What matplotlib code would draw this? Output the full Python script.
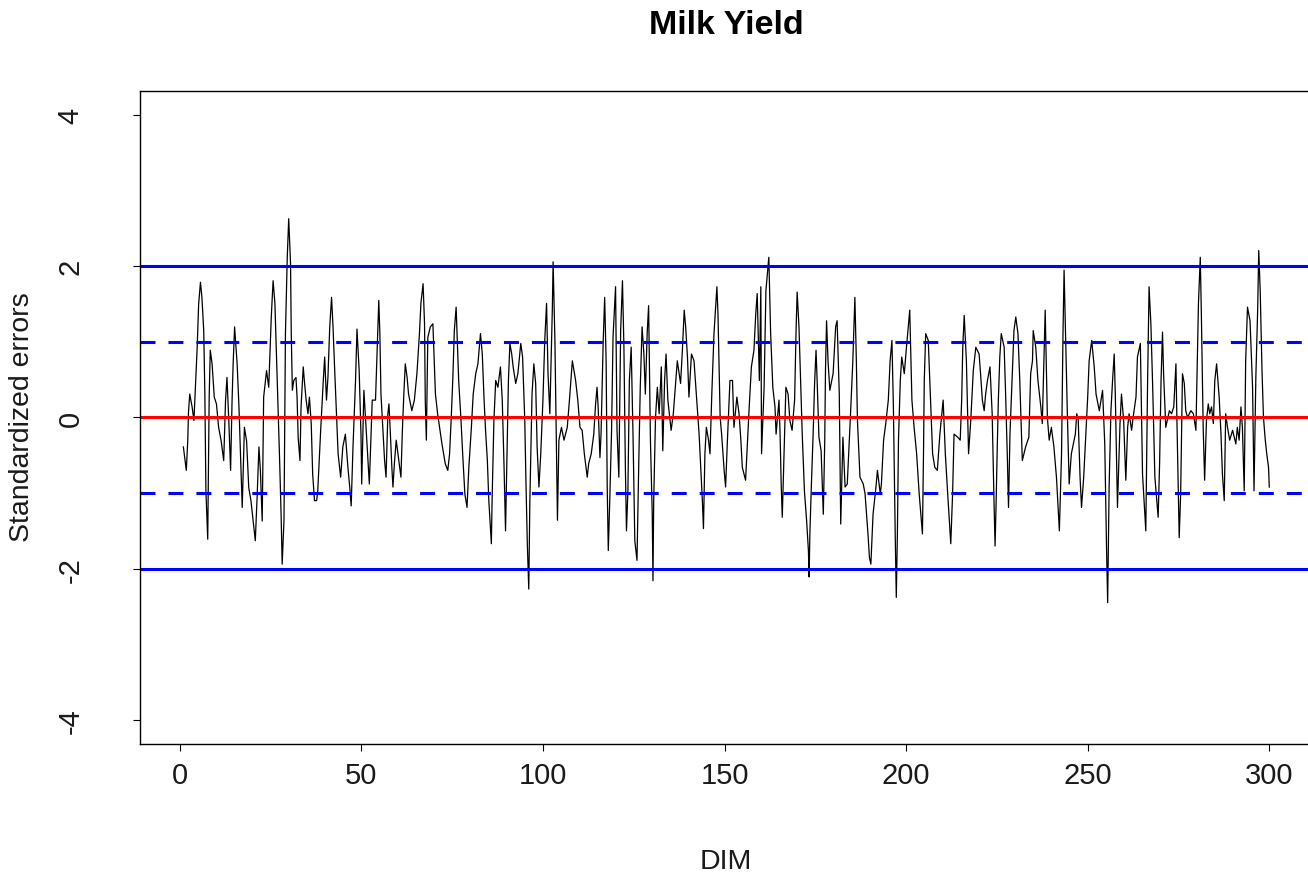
import matplotlib.pyplot as plt

plt.rcParams['font.family'] = ['Liberation Sans', 'DejaVu Sans']
plt.rcParams['axes.unicode_minus'] = False

# standardized errors by days in milk
dim_a = [1.0, 1.8, 2.2, 2.4, 2.75, 3.4, 3.9, 4.4, 4.8, 5.2, 5.7, 6.1, 6.6, 6.9, 7.2, 7.7, 8.1, 8.4, 8.9, 9.5,
         10.1, 10.7, 11.4, 12.1, 12.6, 13.0, 13.5, 14.0, 14.4, 14.7, 15.1, 15.8, 16.3, 16.9, 17.2, 17.8, 18.4,
         19.0, 19.6, 20.2, 20.8, 21.3, 21.8, 22.2, 22.7, 23.1, 23.9, 24.5, 25.2, 25.7]
err_a = [-0.39, -0.70, -0.31, 0.07, 0.31, 0.14, -0.04, 0.49, 0.93, 1.5, 1.79, 1.59, 1.15, 0.34, -0.97, -1.61,
         0.27, 0.89, 0.71, 0.27, 0.18, -0.13, -0.31, -0.57, 0.22, 0.53, -0.04, -0.70, 0.22, 0.71, 1.2, 0.71,
         0.14, -0.75, -1.19, -0.13, -0.31, -0.93, -1.10, -1.37, -1.63, -1.05, -0.39, -0.70, -1.37, 0.27, 0.62,
         0.40, 1.33, 1.81]

dim_b = [26.2, 26.6, 27.0, 27.5, 27.9, 28.2, 28.7, 29.1, 29.6, 30.0, 30.5, 30.7, 31.0, 31.4, 32.0, 32.3, 32.6,
         33.1, 33.4, 34.0, 34.3, 34.8, 35.3, 35.7, 36.2, 36.6, 37.1, 37.7, 38.0, 38.8, 39.5, 39.9, 40.4, 40.8,
         41.3, 41.8, 42.2, 42.7, 43.2, 43.6, 44.3, 44.9, 45.6, 46.3, 46.8, 47.2, 47.7, 48.4, 48.8, 49.4, 49.9,
         50.1, 50.7, 51.4, 52.2, 53.0]
err_b = [1.51, 0.89, 0.23, -0.57, -1.28, -1.94, -1.36, 1.11, 2.12, 2.63, 2.04, 1.11, 0.36, 0.49, 0.53, 0.27,
         -0.26, -0.57, 0.14, 0.67, 0.49, 0.23, 0.05, 0.27, -0.08, -0.75, -1.10, -1.10, -0.97, -0.17, 0.47, 0.80,
         0.23, 0.53, 1.20, 1.59, 1.20, 0.58, 0.0, -0.48, -0.79, -0.39, -0.22, -0.66, -0.92, -1.17, -0.39, 0.49,
         1.17, 0.62, -0.22, -0.88, 0.36, -0.22, -0.88, 0.23]

dim_c = [53.9, 54.5, 54.8, 55.1, 55.4, 56.0, 56.4, 56.8, 57.3, 57.6, 58.0, 58.4, 58.7, 59.1, 59.6, 60.9, 61.3,
         61.7, 62.1, 62.6, 63.0, 63.9, 64.6, 65.3, 66.0, 66.4, 67.0, 67.4, 67.6, 67.9, 68.3, 69.0, 69.7, 70.4,
         71.0, 72.2, 73.1, 73.8, 74.3, 74.8, 75.2, 75.6, 76.1, 76.8, 77.4, 77.9, 78.5, 79.1, 79.6, 80.3, 80.8]
err_c = [0.23, 1.11, 1.55, 1.11, 0.31, -0.22, -0.57, -0.79, 0.05, 0.18, -0.22, -0.66, -0.92, -0.61, -0.30,
         -0.79, -0.17, 0.31, 0.71, 0.53, 0.31, 0.09, 0.23, 0.58, 1.11, 1.51, 1.77, 1.24, 0.23, -0.30, 1.06, 1.20,
         1.24, 0.31, 0.05, -0.35, -0.61, -0.70, -0.48, 0.05, 0.53, 1.15, 1.46, 0.49, 0.0, -0.48, -1.01, -1.19,
         -0.66, -0.13, 0.31]

dim_d = [81.5, 82.1, 82.8, 83.3, 83.8, 84.2, 84.7, 85.1, 85.8, 86.0, 86.5, 87.0, 87.6, 88.3, 88.8, 89.3, 89.7,
         90.2, 90.5, 90.9, 91.4, 91.8, 92.5, 93.1, 93.9, 94.4, 95.0, 95.3, 95.7, 96.1, 96.4, 97.0, 97.5, 98.0,
         98.4, 98.9, 99.4, 100.0, 100.5, 101.0, 101.4, 101.9, 102.6, 102.8, 103.3, 103.7, 104.0, 104.4, 105.1,
         105.8, 106.7, 107.3, 108.1]
err_d = [0.58, 0.71, 1.11, 0.84, 0.23, -0.17, -0.57, -1.10, -1.67, -1.10, -0.04, 0.49, 0.40, 0.67, 0.23, -0.66,
         -1.50, -0.22, 0.49, 0.98, 0.84, 0.67, 0.45, 0.58, 0.98, 0.80, -0.04, -0.79, -1.67, -2.27, -1.10, 0.31,
         0.71, 0.45, -0.39, -0.92, -0.48, 0.23, 1.02, 1.51, 0.58, 0.05, 1.46, 2.06, 1.02, -0.30, -1.36, -0.30,
         -0.13, -0.30, -0.13, 0.23, 0.75]

dim_e = [109.0, 109.6, 110.2, 110.8, 111.4, 112.2, 112.6, 113.3, 114.0, 114.5, 114.9, 115.2, 115.7, 116.0,
         116.6, 117.0, 117.4, 117.7, 118.0, 118.4, 118.9, 119.3, 120.0, 120.4, 120.9, 121.4, 121.9, 122.3,
         122.7, 123.0, 123.4, 123.8, 124.3, 124.8, 125.3, 125.9, 126.4, 126.8, 127.3, 127.8, 128.2, 128.7,
         129.1, 129.6, 130.1, 130.3, 130.5, 131.0, 131.5, 132.0, 132.6, 133.0, 133.5, 133.9, 134.4, 134.8,
         135.3, 135.9]
err_e = [0.49, 0.23, -0.13, -0.17, -0.48, -0.79, -0.61, -0.48, -0.22, 0.18, 0.40, 0.14, -0.53, -0.22, 1.02,
         1.59, 0.75, -0.92, -1.76, -1.10, -0.17, 1.06, 1.73, -0.17, -0.79, 1.15, 1.81, 0.93, -0.66, -1.50, -0.97,
         0.49, 0.93, -0.22, -1.63, -1.89, -0.57, 0.40, 1.20, 0.84, 0.31, 1.11, 1.48, -0.30, -1.28, -2.16, -1.10,
         0.0, 0.40, 0.05, 0.67, -0.44, 0.49, 0.84, 0.23, 0.05, -0.17, 0.05]

dim_f = [136.6, 137.0, 137.5, 137.9, 138.4, 138.9, 139.3, 139.8, 140.2, 140.9, 141.6, 142.3, 143.0, 143.4,
         143.9, 144.2, 144.6, 145.0, 145.6, 146.0, 146.5, 147.1, 147.9, 148.2, 148.8, 149.2, 149.9, 150.3,
         150.8, 151.5, 152.2, 152.6, 153.4, 154.0, 154.5, 154.9, 155.8, 156.8, 157.4, 158.1, 158.6, 159.0,
         159.6, 160.0, 160.2, 160.9, 161.4, 162.2, 162.7, 163.3]
err_f = [0.49, 0.75, 0.58, 0.45, 0.89, 1.42, 1.20, 0.80, 0.27, 0.84, 0.75, 0.27, -0.22, -0.61, -1.10, -1.47,
         -0.48, -0.13, -0.30, -0.48, 0.31, 1.11, 1.73, 1.37, 0.0, -0.22, -0.70, -0.92, -0.30, 0.49, 0.49, -0.13,
         0.27, 0.05, -0.30, -0.66, -0.83, 0.14, 0.67, 0.89, 1.37, 1.64, 0.49, 1.73, -0.48, 0.40, 1.68, 2.12,
         1.11, 0.40]

dim_g = [163.9, 164.2, 165.0, 165.3, 165.6, 165.9, 166.4, 166.9, 167.5, 168.0, 168.6, 169.3, 169.7, 170.0,
         170.5, 171.1, 171.4, 172.0, 172.6, 173.1, 173.3, 173.5, 173.9, 174.4, 174.8, 175.2, 175.5, 176.0,
         176.6, 177.2, 177.6, 177.8, 178.1, 178.5, 179.0, 179.9, 180.6, 181.0, 181.6, 182.0, 182.6, 183.2,
         183.8, 184.7, 185.3, 185.9, 186.3, 186.6, 187.3, 188.2, 188.7, 189.5, 189.9, 190.3, 190.9]
err_g = [0.14, -0.22, 0.23, -0.22, -0.88, -1.32, -0.44, 0.40, 0.31, -0.04, -0.17, 0.23, 1.15, 1.66, 1.20, 0.27,
         -0.22, -0.97, -1.36, -1.76, -2.11, -1.54, -0.92, -0.22, 0.45, 0.89, 0.49, -0.26, -0.44, -1.28, -0.30,
         0.62, 1.28, 0.75, 0.36, 0.58, 1.20, 1.28, 0.31, -1.41, -0.26, -0.92, -0.88, 0.05, 0.71, 1.59, 0.75,
         -0.04, -0.79, -0.88, -1.01, -1.54, -1.85, -1.94, -1.28]

dim_h = [191.7, 192.1, 192.9, 193.2, 193.8, 194.4, 195.1, 195.6, 196.1, 196.5, 197.0, 197.3, 197.6, 197.9,
         198.4, 198.8, 199.5, 200.1, 201.0, 201.6, 202.2, 202.9, 203.6, 204.5, 204.8, 205.0, 205.4, 206.1,
         206.6, 207.3, 207.9, 208.6, 209.3, 210.2, 210.8, 211.4, 212.3, 212.8, 213.2, 214.2, 214.9, 215.3,
         215.6, 216.0, 216.6, 217.2, 217.8, 218.5]
err_h = [-0.92, -0.70, -1.01, -0.88, -0.30, -0.08, 0.23, 0.75, 1.02, 0.14, -1.54, -2.38, -1.54, -0.30, 0.49,
         0.80, 0.58, 0.93, 1.42, 0.23, -0.13, -0.48, -1.01, -1.54, -0.44, 0.49, 1.11, 1.02, 0.40, -0.48, -0.66,
         -0.70, -0.22, 0.23, -0.48, -0.97, -1.67, -1.01, -0.22, -0.26, -0.30, 0.23, 0.93, 1.35, 0.75, -0.48,
         -0.04, 0.62]

dim_i = [219.2, 220.1, 220.5, 221.0, 221.5, 221.9, 222.4, 223.1, 223.7, 224.2, 224.5, 224.8, 225.1, 225.4,
         225.8, 226.2, 227.0, 227.4, 227.9, 228.2, 228.6, 229.3, 229.7, 230.2, 230.8, 231.3, 232.0, 232.9,
         233.8, 234.3, 234.8, 235.0, 235.7, 236.3, 237.1, 237.5, 238.3, 238.9, 239.4, 240.0, 240.7, 241.4,
         242.2, 242.8, 243.2, 243.5, 243.9, 244.4, 244.9, 245.5]
err_i = [0.93, 0.84, 0.58, 0.23, 0.09, 0.31, 0.49, 0.67, 0.05, -1.10, -1.70, -1.10, -0.39, 0.23, 0.80, 1.11,
         0.93, 0.31, -0.57, -1.19, -0.22, 0.67, 1.15, 1.33, 1.11, 0.49, -0.57, -0.39, -0.26, 0.58, 0.75, 1.15,
         0.93, 0.49, 0.14, -0.08, 1.42, 0.0, -0.30, -0.13, -0.39, -0.79, -1.50, -0.48, 1.11, 1.95, 1.11, 0.05,
         -0.88, -0.48]

dim_j = [246.6, 247.0, 247.4, 247.9, 248.3, 248.9, 249.5, 250.0, 250.4, 251.1, 251.8, 252.3, 253.2, 254.1,
         254.7, 255.2, 255.5, 255.9, 256.4, 256.9, 257.3, 257.6, 258.2, 258.9, 259.3, 259.9, 260.5, 261.0,
         261.4, 262.1, 262.5, 263.3, 263.7, 264.5, 265.1, 266.0, 266.5, 266.9, 267.4, 267.9, 268.5, 269.4,
         269.8, 270.2, 270.6, 270.9, 271.5, 272.5, 273.1, 273.7]
err_j = [-0.22, 0.05, -0.04, -0.79, -1.19, -0.79, -0.22, 0.27, 0.75, 1.02, 0.67, 0.31, 0.09, 0.36, -0.35, -1.76,
         -2.45, -0.92, 0.09, 0.53, 0.84, 0.31, -1.19, -0.08, 0.31, -0.04, -0.83, -0.13, 0.05, -0.17, 0.0, 0.27,
         0.80, 0.98, -0.75, -1.50, 0.49, 1.73, 1.24, 0.40, -0.79, -1.32, -0.61, 0.49, 1.13, 0.58, -0.13, 0.09,
         0.05, 0.14]

dim_k = [274.3, 274.5, 274.9, 275.2, 275.6, 276.1, 276.6, 277.0, 277.5, 278.4, 279.1, 279.8, 280.0, 280.5,
         281.0, 281.3, 281.8, 282.2, 282.7, 283.2, 283.6, 284.1, 284.6, 285.0, 285.5, 286.2, 286.7, 287.1,
         287.6, 288.0, 288.5, 289.1, 289.9, 290.8, 291.2, 291.7, 292.2, 292.6, 293.1, 293.5, 294.0, 294.7,
         295.4, 295.8, 296.3, 296.8, 297.1, 297.5, 298.0, 298.4, 298.9, 299.3, 299.8, 300.0]
err_k = [0.71, 0.14, -0.88, -1.59, -1.01, 0.58, 0.45, 0.09, 0.0, 0.09, 0.05, -0.17, 0.31, 1.51, 2.12, 1.37,
         -0.13, -0.83, -0.04, 0.18, 0.05, 0.14, -0.08, 0.49, 0.71, 0.27, -0.22, -0.75, -1.10, 0.05, -0.13, -0.30,
         -0.17, -0.35, -0.13, -0.30, 0.14, -0.13, -0.97, 0.75, 1.46, 1.28, 0.40, -0.97, 0.53, 1.42, 2.21, 1.68,
         0.62, 0.0, -0.30, -0.48, -0.66, -0.92]

x_ticks = [0, 50, 100, 150, 200, 250, 300]
y_ticks = [-4, -2, 0, 2, 4]
limit_lines = [2, -2]
band_lines = [1, -1]

dim = dim_a + dim_b + dim_c + dim_d + dim_e + dim_f + dim_g + dim_h + dim_i + dim_j + dim_k
err = err_a + err_b + err_c + err_d + err_e + err_f + err_g + err_h + err_i + err_j + err_k

fig = plt.figure(figsize=(13.08, 8.78), dpi=100)
ax = fig.add_axes([0.107, 0.1515, 0.8966, 0.7437])

ax.plot(dim, err, color='black', lw=0.9)
ax.axhline(0, color='red', lw=2.2)
for v in limit_lines:
    ax.axhline(v, color='blue', lw=2.2)
for v in band_lines:
    ax.axhline(v, color='blue', lw=2.2, ls=(0, (4.9, 4.25)))

ax.set_xlim(-10.96, 311.96)
ax.set_ylim(-4.32, 4.32)
ax.set_xticks(x_ticks)
ax.set_yticks(y_ticks)
ax.tick_params(axis='both', length=5, width=0.8, labelsize=21, color='black', labelcolor='#1a1a1a')
ax.tick_params(axis='x', pad=7)
ax.tick_params(axis='y', pad=35)
for lab in ax.get_yticklabels():
    lab.set_rotation(90)
    lab.set_va('center')
for sp in ax.spines.values():
    sp.set_linewidth(1.0)

fig.text(726 / 1308, 1 - 25 / 878, 'Milk Yield', ha='center', va='center',
         fontsize=24.5, fontweight='bold')
fig.text(726 / 1308, 1 - 862 / 878, 'DIM', ha='center', va='center', fontsize=20.5, color='#1a1a1a')
fig.text(22 / 1308, 1 - 417 / 878, 'Standardized errors', ha='center', va='center',
         rotation=90, fontsize=20.5, color='#1a1a1a')

fig.savefig('out.png', dpi=100)
